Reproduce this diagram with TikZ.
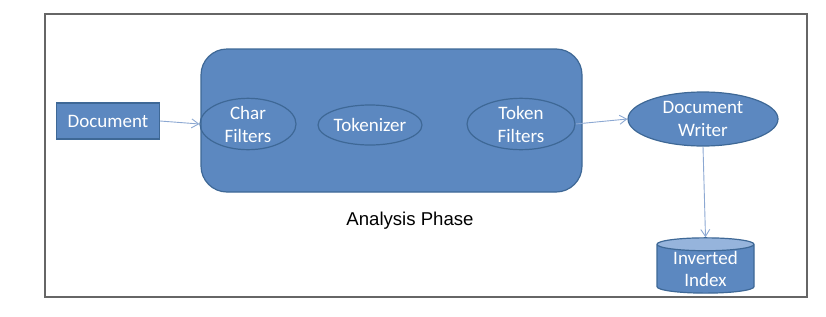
\documentclass[tikz,border=0pt]{standalone}
\usepackage{fontspec}
\setmainfont{Carlito}
\newfontfamily\arialfont{Liberation Sans}
\usetikzlibrary{shapes.geometric,arrows.meta}

\definecolor{boxblue}{RGB}{92,136,192}
\definecolor{edgeblue}{RGB}{62,104,150}
\definecolor{linkblue}{RGB}{140,168,210}
\definecolor{topblue}{RGB}{150,180,220}

\tikzset{
  every node/.style={font=\fontsize{19}{23}\selectfont, text=white},
  blockbox/.style={draw=edgeblue, fill=boxblue, line width=1.2pt},
  stage/.style={ellipse, draw=edgeblue, line width=1.2pt, inner sep=0pt, align=center},
  link/.style={draw=linkblue, line width=0.9pt, -{Straight Barb[length=7pt,width=9pt]}}
}

\begin{document}
\begin{tikzpicture}[x=1pt, y=-1pt]
 \useasboundingbox (0,0) rectangle (826,316);
 \draw[gray!80!black, line width=1.3pt] (45,14) rectangle (807,297);

 % analysis block
 \draw[blockbox, rounded corners=26pt] (201,49) rectangle (582,192);
 \node[text=black, font=\arialfont\fontsize{18.6}{22}\selectfont] (phase) at (410,221) {Analysis Phase};

 \node[blockbox, minimum width=103pt, minimum height=36pt, inner sep=0pt] (doc) at (108,121) {Document};
 \node[stage, minimum width=96pt, minimum height=41pt] (char) at (248,124) {Char\\Filters};
 \node[stage, minimum width=104pt, minimum height=40pt] (tok) at (370,125) {Tokenizer};
 \node[stage, minimum width=108pt, minimum height=42pt] (tokf) at (521,124) {Token\\Filters};
 \node[stage, fill=boxblue, minimum width=150pt, minimum height=54pt] (writer) at (703,119) {Document\\Writer};
 \node[cylinder, shape border rotate=90, aspect=0.2, draw=edgeblue, line width=1.2pt,
   cylinder uses custom fill, cylinder body fill=boxblue, cylinder end fill=topblue,
   minimum width=97pt, minimum height=46pt, inner sep=0pt, align=center,
   font=\fontsize{19}{22}\selectfont] (index) at (705.5,269) {Inverted\\Index};

 \draw[link] (doc.east) -- (char.west);
 \draw[link] (tokf.east) -- (writer.west);
 \draw[link] (writer.south) -- (index.top);
\end{tikzpicture}
\end{document}
